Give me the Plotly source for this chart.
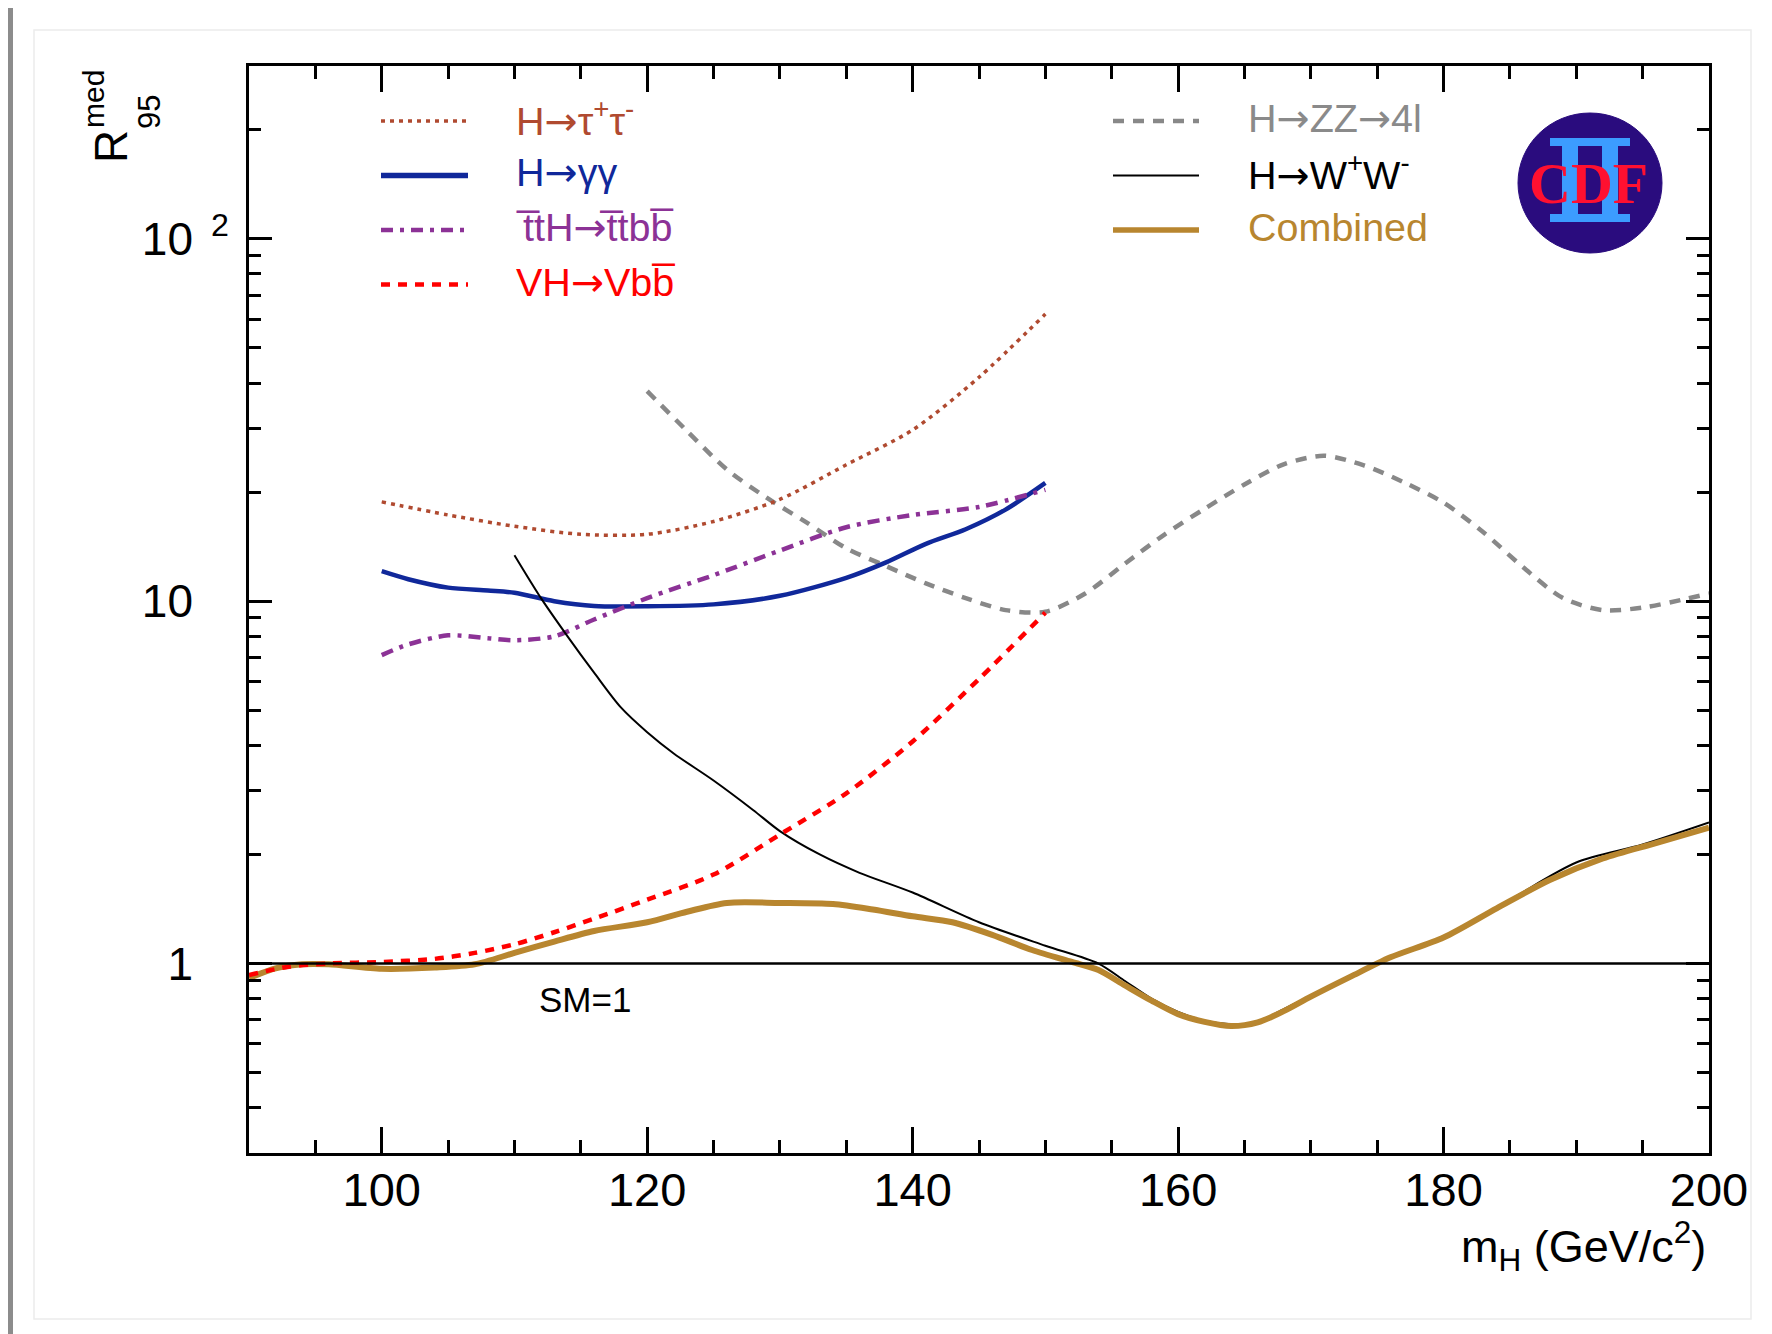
import plotly.graph_objects as go

# ---------------- data ----------------
tau_x = [100, 105, 110, 115, 120, 125, 130, 135, 140, 145, 150]
tau_y = [18.8, 17.3, 16.1, 15.3, 15.3, 16.6, 19.1, 23.8, 29.7, 41.5, 62.0]

gam_x = [100, 102, 105, 108, 110, 113, 116, 120, 125, 130, 135, 138, 141, 144, 147, 150]
gam_y = [12.1, 11.5, 10.9, 10.7, 10.55, 10.0, 9.7, 9.68, 9.8, 10.35, 11.6, 12.8, 14.4, 15.8, 17.9, 21.2]

tth_x = [100, 102, 105, 108, 110, 113, 116, 120, 125, 130, 135, 140, 145, 150]
tth_y = [7.1, 7.6, 8.05, 7.9, 7.8, 8.0, 8.9, 10.2, 11.8, 13.8, 16.0, 17.3, 18.2, 20.3]

vh_x = [90, 93, 96, 100, 104, 107, 110, 113, 116, 120, 125, 130, 135, 140, 145, 150]
vh_y = [0.93, 0.98, 1.0, 1.01, 1.03, 1.07, 1.13, 1.22, 1.33, 1.50, 1.76, 2.27, 2.95, 4.1, 6.1, 9.3]

zz_x = [120, 123, 126, 129, 132, 135, 138, 141, 144, 147, 150, 153, 156, 159, 162, 165,
        168, 171, 174, 177, 180, 183, 186, 189, 192, 195, 198, 200]
zz_y = [38.0, 29.5, 23.1, 19.3, 16.5, 14.0, 12.5, 11.2, 10.2, 9.45, 9.35, 10.5, 12.7, 15.3,
        18.0, 21.0, 23.9, 25.2, 23.7, 21.3, 18.7, 15.5, 12.4, 10.2, 9.45, 9.6, 10.1, 10.5]

ww_x = [110, 112, 114, 116, 118, 120, 122, 125, 128, 130, 133, 136, 140, 145, 150, 154,
        156, 158, 160, 162, 164, 166, 168, 170, 175, 180, 185, 190, 195, 200]
ww_y = [13.4, 10.2, 8.0, 6.35, 5.1, 4.35, 3.8, 3.2, 2.65, 2.32, 2.0, 1.78, 1.57, 1.3, 1.12, 1.0,
        0.895, 0.80, 0.735, 0.695, 0.68, 0.69, 0.75, 0.815, 1.0, 1.19, 1.5, 1.9, 2.13, 2.45]

comb_x = [90, 92, 94, 96, 100, 104, 107, 110, 113, 116, 120, 123, 126, 130, 134, 137, 140,
          143, 146, 149, 152, 154, 156, 158, 160, 162, 164, 166, 168, 170, 173, 176, 180,
          184, 188, 192, 196, 200]
comb_y = [0.912, 0.97, 0.995, 0.995, 0.967, 0.975, 0.995, 1.07, 1.15, 1.23, 1.30, 1.39, 1.47,
          1.47, 1.46, 1.41, 1.35, 1.30, 1.20, 1.09, 1.01, 0.96, 0.87, 0.79, 0.725, 0.69, 0.672,
          0.688, 0.74, 0.81, 0.92, 1.04, 1.18, 1.42, 1.70, 1.95, 2.15, 2.37]

sm_x = [90, 200]
sm_y = [1, 1]

x_major = [100, 120, 140, 160, 180, 200]
y_major = [1, 10, 100]
y_minor = [0.3, 0.4, 0.5, 0.6, 0.7, 0.8, 0.9, 2, 3, 4, 5, 6, 7, 8, 9,
           20, 30, 40, 50, 60, 70, 80, 90, 200, 300]

# ---------------- styles ----------------
FONT = "Liberation Sans, Arial, Helvetica, sans-serif"
ARR = "<span style='font-family:DejaVu Sans'>→</span>"
C_TAU = "#b04a30"
C_GAM = "#10289a"
C_TTH = "#8c3296"
C_VH = "#ff0000"
C_ZZ = "#888888"
C_WW = "#000000"
C_CMB = "#b8862f"

D_TAU = "4px,5px"
D_TTH = "12px,7px,4px,7px"
D_VH = "9px,8px"
D_ZZ = "11px,9px"

W = 1772
H = 1334
OFF = 8  # the page body margin shifts the figure by 8 px
PL, PR, PT, PB = 249, 1709, 66, 1153   # frame in page pixels


def px(x):
    return (x - PL) / (PR - PL)


def py(y):
    return (PB - y) / (PB - PT)


fig = go.Figure()


def add(xs, ys, color, width, dash="solid"):
    fig.add_trace(go.Scatter(x=xs, y=ys, mode="lines",
                             line=dict(color=color, width=width, dash=dash,
                                       shape="spline", smoothing=0.8),
                             showlegend=False, hoverinfo="x+y"))


add(zz_x, zz_y, C_ZZ, 4.5, D_ZZ)
add(tau_x, tau_y, C_TAU, 3.5, D_TAU)
add(gam_x, gam_y, C_GAM, 4.5)
add(tth_x, tth_y, C_TTH, 4.5, D_TTH)
add(ww_x, ww_y, C_WW, 2.0)
add(comb_x, comb_y, C_CMB, 6.0)
add(vh_x, vh_y, C_VH, 4.5, D_VH)
fig.add_trace(go.Scatter(x=sm_x, y=sm_y, mode="lines",
                         line=dict(color="black", width=2.5),
                         showlegend=False, hoverinfo="skip"))

shapes = []
ann = []

# ---- manual legend (long sample lines like the original) ----
legend_left = [
    ("H" + ARR + "τ<sup>+</sup>τ<sup>-</sup>", C_TAU, D_TAU, 3.5, 121),
    ("H" + ARR + "γγ", C_GAM, "solid", 5.5, 175.5),
    ("t\u0305tH" + ARR + "t\u0305tbb\u0305", C_TTH, D_TTH, 4.5, 230),
    ("VH" + ARR + "Vbb\u0305", C_VH, D_VH, 4.5, 284.5),
]
legend_right = [
    ("H" + ARR + "ZZ" + ARR + "4l", C_ZZ, D_ZZ, 4.5, 121),
    ("H" + ARR + "W<sup>+</sup>W<sup>-</sup>", C_WW, "solid", 2.0, 175.5),
    ("Combined", C_CMB, "solid", 5.5, 230),
]
for entries, x0, x1, xt in [(legend_left, 381, 468, 514), (legend_right, 1113, 1199, 1246)]:
    for label, col, dash, wdt, yy in entries:
        shapes.append(dict(type="line", xref="paper", yref="paper",
                           x0=px(x0), x1=px(x1), y0=py(yy), y1=py(yy),
                           line=dict(color=col, width=wdt, dash=dash)))
        tcol = col if col != C_ZZ else "#8a8a8a"
        ann.append(dict(text=label, xref="paper", yref="paper", x=px(xt), y=py(yy - 3),
                        xanchor="left", yanchor="middle", showarrow=False,
                        font=dict(family=FONT, size=39.5, color=tcol)))

# ---- SM=1 label ----
ann.append(dict(text="SM=1", xref="paper", yref="paper", x=px(585), y=py(999),
                xanchor="center", yanchor="middle", showarrow=False,
                font=dict(family=FONT, size=35, color="black")))

# ---- axis titles ----
ann.append(dict(text="m<sub>H</sub> (GeV/c<sup>2</sup>)", xref="paper", yref="paper",
                x=px(1708), y=py(1212), xanchor="right", yanchor="top", showarrow=False,
                font=dict(family=FONT, size=45, color="black")))
ann.append(dict(text="R", xref="paper", yref="paper", x=px(111), y=py(147),
                xanchor="center", yanchor="middle", textangle=-90, showarrow=False,
                font=dict(family=FONT, size=46, color="black")))
ann.append(dict(text="med", xref="paper", yref="paper", x=px(93), y=py(99),
                xanchor="center", yanchor="middle", textangle=-90, showarrow=False,
                font=dict(family=FONT, size=30, color="black")))
ann.append(dict(text="95", xref="paper", yref="paper", x=px(150), y=py(112),
                xanchor="center", yanchor="middle", textangle=-90, showarrow=False,
                font=dict(family=FONT, size=31, color="black")))

# ---- CDF logo ----
shapes.append(dict(type="circle", xref="paper", yref="paper", layer="above",
                   x0=px(1518), x1=px(1662), y0=py(113), y1=py(253),
                   fillcolor="#2a0c7e", line=dict(color="#2a0c7e", width=1)))
LB = "#3c9cff"
for (a, b, c, d) in [(1550, 138, 1630, 146), (1550, 214, 1630, 222),
                     (1562, 138, 1578, 222), (1602, 138, 1618, 222)]:
    shapes.append(dict(type="rect", xref="paper", yref="paper", layer="above",
                       x0=px(a), x1=px(c), y0=py(b), y1=py(d),
                       fillcolor=LB, line=dict(width=0)))
ann.append(dict(text="<b>CDF</b>", xref="paper", yref="paper", x=px(1588), y=py(183),
                xanchor="center", yanchor="middle", showarrow=False,
                font=dict(family="Liberation Serif, Times New Roman, serif", size=58,
                          color="#ff1030")))

# ---- page decoration (grey strips of the screenshot) ----
shapes.append(dict(type="rect", xref="paper", yref="paper", layer="below",
                   x0=px(34), x1=px(1751), y0=py(30), y1=py(1319),
                   fillcolor="rgba(0,0,0,0)", line=dict(color="#ececec", width=1.5)))
shapes.append(dict(type="rect", xref="paper", yref="paper", layer="above",
                   x0=px(0), x1=px(13), y0=py(0), y1=py(W),
                   fillcolor="#8c8c8c", line=dict(width=0)))

pad = "<sup><span style='color:rgba(0,0,0,0)'>\u00a0\u00a02</span></sup>"
y_text = ["1" + pad, "10" + pad, "10<sup>\u00a0\u00a02</sup>"]

fig.update_layout(
    width=W, height=H,
    margin=dict(l=PL - OFF, r=W - (PR - OFF), t=PT - OFF, b=H - (PB - OFF)),
    paper_bgcolor="white", plot_bgcolor="white",
    showlegend=False,
    shapes=shapes, annotations=ann,
    xaxis=dict(range=[90, 200], tickvals=x_major, ticktext=[str(v) for v in x_major],
               ticks="inside", ticklen=26, tickwidth=2.5, tickcolor="black",
               minor=dict(dtick=5, tick0=0, ticks="inside", ticklen=13, tickwidth=2.5,
                          tickcolor="black"),
               showline=True, linewidth=3, linecolor="black", mirror="allticks",
               showgrid=False, zeroline=False, ticklabelstandoff=-6,
               tickfont=dict(family=FONT, size=47, color="black")),
    yaxis=dict(type="log", range=[-0.5229, 2.4771], tickvals=y_major, ticktext=y_text,
               ticks="inside", ticklen=23, tickwidth=2.5, tickcolor="black",
               minor=dict(tickmode="array", tickvals=y_minor, ticks="inside", ticklen=12,
                          tickwidth=2.5, tickcolor="black"),
               showline=True, linewidth=3, linecolor="black", mirror="allticks",
               showgrid=False, zeroline=False, ticklabelstandoff=8,
               tickfont=dict(family=FONT, size=46, color="black")),
)

fig.write_html("out.html")
